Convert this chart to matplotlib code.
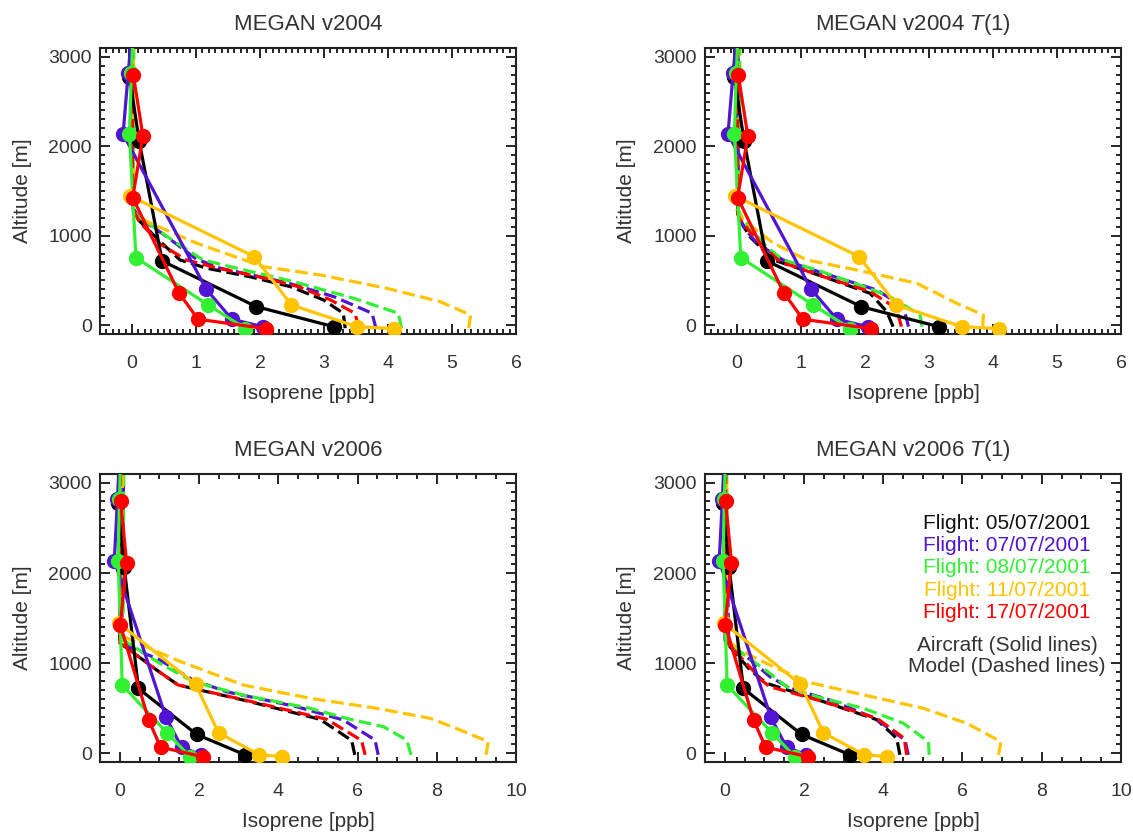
import matplotlib
matplotlib.use("Agg")
import matplotlib.pyplot as plt
from matplotlib.ticker import MultipleLocator

plt.rcParams['font.family'] = ['Liberation Sans', 'DejaVu Sans']
plt.rcParams['mathtext.fontset'] = 'custom'
plt.rcParams['mathtext.rm'] = 'Liberation Sans'
plt.rcParams['mathtext.it'] = 'Liberation Sans:italic'

# flights and colours
flights = ["05/07/2001", "07/07/2001", "08/07/2001", "11/07/2001", "17/07/2001"]
colors = ["#000000", "#5014D2", "#32F032", "#FFC300", "#FF0000"]

# aircraft profiles (same in every panel): isoprene [ppb] / altitude [m]
obs_x = [
    [3.15, 1.94, 0.47, 0.11, -0.04, -0.03],
    [2.05, 1.56, 1.16, -0.14, -0.06, 0.0],
    [1.77, 1.19, 0.06, -0.04, -0.01, 0.02],
    [4.10, 3.51, 2.49, 1.91, -0.03],
    [2.09, 1.03, 0.73, 0.01, 0.17, 0.02],
]
obs_z = [
    [-18, 206, 717, 2063, 2779, 3300],
    [-20, 65, 400, 2137, 2817, 3300],
    [-40, 225, 754, 2137, 2823, 3300],
    [-40, -18, 225, 765, 1444],
    [-40, 65, 363, 1425, 2115, 2797],
]

# model profiles, MEGAN v2004
v2004_x = [
    [3.33, 3.30, 2.99, 2.47, 1.84, 1.17, 0.75, 0.44, 0.10, 0.02, 0.01],
    [3.81, 3.75, 3.15, 2.42, 1.38, 1.00, 0.54, 0.13, 0.02, 0.01],
    [4.21, 4.16, 3.46, 2.52, 1.64, 1.11, 0.70, 0.18, 0.02, 0.03],
    [5.26, 5.29, 4.81, 3.98, 2.94, 2.05, 1.01, 0.23, 0.02, 0.02],
    [3.55, 3.48, 3.10, 2.60, 1.97, 1.35, 0.85, 0.45, 0.12, 0.01, 0.0],
]
v2004_z = [
    [-36, 132, 281, 430, 541, 635, 728, 933, 1175, 1300, 3300],
    [-36, 132, 318, 474, 635, 740, 989, 1194, 1300, 3300],
    [-36, 132, 300, 486, 635, 728, 915, 1175, 1250, 3300],
    [-36, 113, 262, 411, 560, 653, 915, 1157, 1268, 3300],
    [-36, 132, 281, 430, 541, 635, 728, 900, 1150, 1300, 3300],
]

# MEGAN v2004 T(1)
v2004t_x = [
    [2.44, 2.34, 2.08, 1.35, 0.57, 0.20, 0.05, 0.01, 0.0],
    [2.68, 2.60, 2.18, 1.35, 0.72, 0.31, 0.10, 0.02, 0.02],
    [2.89, 2.86, 2.39, 1.98, 1.25, 0.72, 0.46, 0.10, 0.02, 0.05],
    [3.84, 3.85, 3.43, 2.81, 1.87, 1.09, 0.57, 0.10, 0.0, 0.02],
    [2.57, 2.49, 2.08, 1.35, 0.67, 0.31, 0.05, 0.01, 0.01],
]
v2004t_z = [
    [-18, 150, 355, 541, 728, 989, 1175, 1250, 3300],
    [-18, 206, 393, 579, 728, 915, 1100, 1250, 3300],
    [-18, 113, 318, 430, 616, 728, 877, 1175, 1290, 3300],
    [-18, 113, 244, 467, 616, 728, 915, 1175, 1290, 3300],
    [-18, 188, 374, 541, 709, 952, 1175, 1250, 3300],
]

# MEGAN v2006
v2006_x = [
    [5.93, 5.85, 5.05, 3.11, 1.47, 0.93, 0.25, 0.0, 0.0],
    [6.52, 6.44, 5.64, 4.46, 2.69, 1.85, 1.01, 0.25, 0.05, 0.10],
    [7.35, 7.24, 6.65, 5.81, 4.80, 3.11, 1.85, 1.01, 0.42, 0.08, 0.10],
    [9.24, 9.30, 8.59, 7.83, 6.48, 4.80, 3.11, 1.43, 0.0, 0.08],
    [6.19, 6.10, 5.22, 3.15, 1.47, 0.93, 0.25, 0.0, 0.02],
]
v2006_z = [
    [-20, 140, 375, 589, 756, 922, 1144, 1222, 3300],
    [-20, 144, 367, 515, 681, 811, 1033, 1181, 1260, 3300],
    [-20, 144, 293, 375, 497, 644, 792, 996, 1163, 1256, 3300],
    [-20, 126, 256, 386, 497, 608, 756, 1033, 1311, 3300],
    [-20, 140, 375, 589, 756, 922, 1144, 1222, 3300],
]

# MEGAN v2006 T(1)
v2006t_x = [
    [4.42, 4.34, 3.84, 2.49, 1.06, 0.64, 0.13, 0.01, 0.0],
    [4.63, 4.55, 3.79, 2.66, 1.65, 1.14, 0.55, 0.10, 0.02],
    [5.16, 5.14, 4.51, 3.50, 2.32, 1.56, 1.14, 0.38, 0.05, 0.05],
    [6.91, 6.97, 6.11, 5.01, 3.33, 2.15, 1.22, 0.38, 0.05, 0.05],
    [4.59, 4.53, 3.84, 2.49, 1.14, 0.97, 0.47, 0.05, 0.02],
]
v2006t_z = [
    [-20, 163, 370, 571, 774, 922, 1181, 1250, 3300],
    [-20, 144, 386, 589, 719, 848, 1070, 1215, 3300],
    [-20, 126, 330, 497, 626, 737, 885, 1126, 1230, 3300],
    [-20, 126, 330, 497, 663, 782, 960, 1144, 1256, 3300],
    [-20, 163, 386, 571, 737, 793, 1033, 1230, 3300],
]

txt = '#333333'
fig = plt.figure(figsize=(11.33, 8.32), dpi=100)

panels = [
    ("MEGAN v2004", v2004_x, v2004_z, [0.0883, 0.5986, 0.3672, 0.3438], 6, 1, 0.1),
    (r"MEGAN v2004 $\mathit{T}$(1)", v2004t_x, v2004t_z, [0.6222, 0.5986, 0.3672, 0.3438], 6, 1, 0.1),
    ("MEGAN v2006", v2006_x, v2006_z, [0.0883, 0.0841, 0.3672, 0.3462], 10, 2, 0.5),
    (r"MEGAN v2006 $\mathit{T}$(1)", v2006t_x, v2006t_z, [0.6222, 0.0841, 0.3672, 0.3462], 10, 2, 0.5),
]

axes = []
for title, mx, mz, rect, xmax, xmaj, xmin in panels:
    ax = fig.add_axes(rect)
    # model (dashed)
    for i in range(5):
        ax.plot(mx[i], mz[i], color=colors[i], lw=2.3, ls=(0, (4.0, 1.7)), zorder=2)
    # aircraft (solid + dots)
    for i in range(5):
        ax.plot(obs_x[i], obs_z[i], color=colors[i], lw=2.3, marker='o', ms=10,
                zorder=3 + i)
    ax.set_xlim(-0.5, xmax)
    ax.set_ylim(-100, 3100)
    ax.xaxis.set_major_locator(MultipleLocator(xmaj))
    ax.xaxis.set_minor_locator(MultipleLocator(xmin))
    ax.yaxis.set_major_locator(MultipleLocator(1000))
    ax.yaxis.set_minor_locator(MultipleLocator(100))
    ax.tick_params(which='both', direction='in', top=True, right=True,
                   labelsize=14, labelcolor=txt, width=1.2)
    ax.tick_params(which='major', length=7)
    ax.tick_params(which='minor', length=3.5)
    ax.tick_params(axis='x', pad=15)
    ax.tick_params(axis='y', pad=6)
    for s in ax.spines.values():
        s.set_linewidth(1.5)
        s.set_color('#222222')
    ax.set_title(title, fontsize=16, color=txt, pad=13)
    ax.set_xlabel("Isoprene [ppb]", fontsize=15, color=txt, labelpad=9)
    ax.set_ylabel("Altitude [m]", fontsize=15, color=txt, labelpad=12)
    axes.append(ax)

# legend text in the last panel
ax = axes[3]
ypos = [0.829, 0.753, 0.676, 0.597, 0.520]
for i in range(5):
    ax.text(0.726, ypos[i], "Flight: " + flights[i], color=colors[i] if i else '#111111',
            fontsize=15, ha='center', va='center', transform=ax.transAxes, zorder=20)
ax.text(0.726, 0.406, "Aircraft (Solid lines)", color=txt, fontsize=15,
        ha='center', va='center', transform=ax.transAxes, zorder=20)
ax.text(0.726, 0.331, "Model (Dashed lines)", color=txt, fontsize=15,
        ha='center', va='center', transform=ax.transAxes, zorder=20)

fig.savefig("out.png", dpi=100)
